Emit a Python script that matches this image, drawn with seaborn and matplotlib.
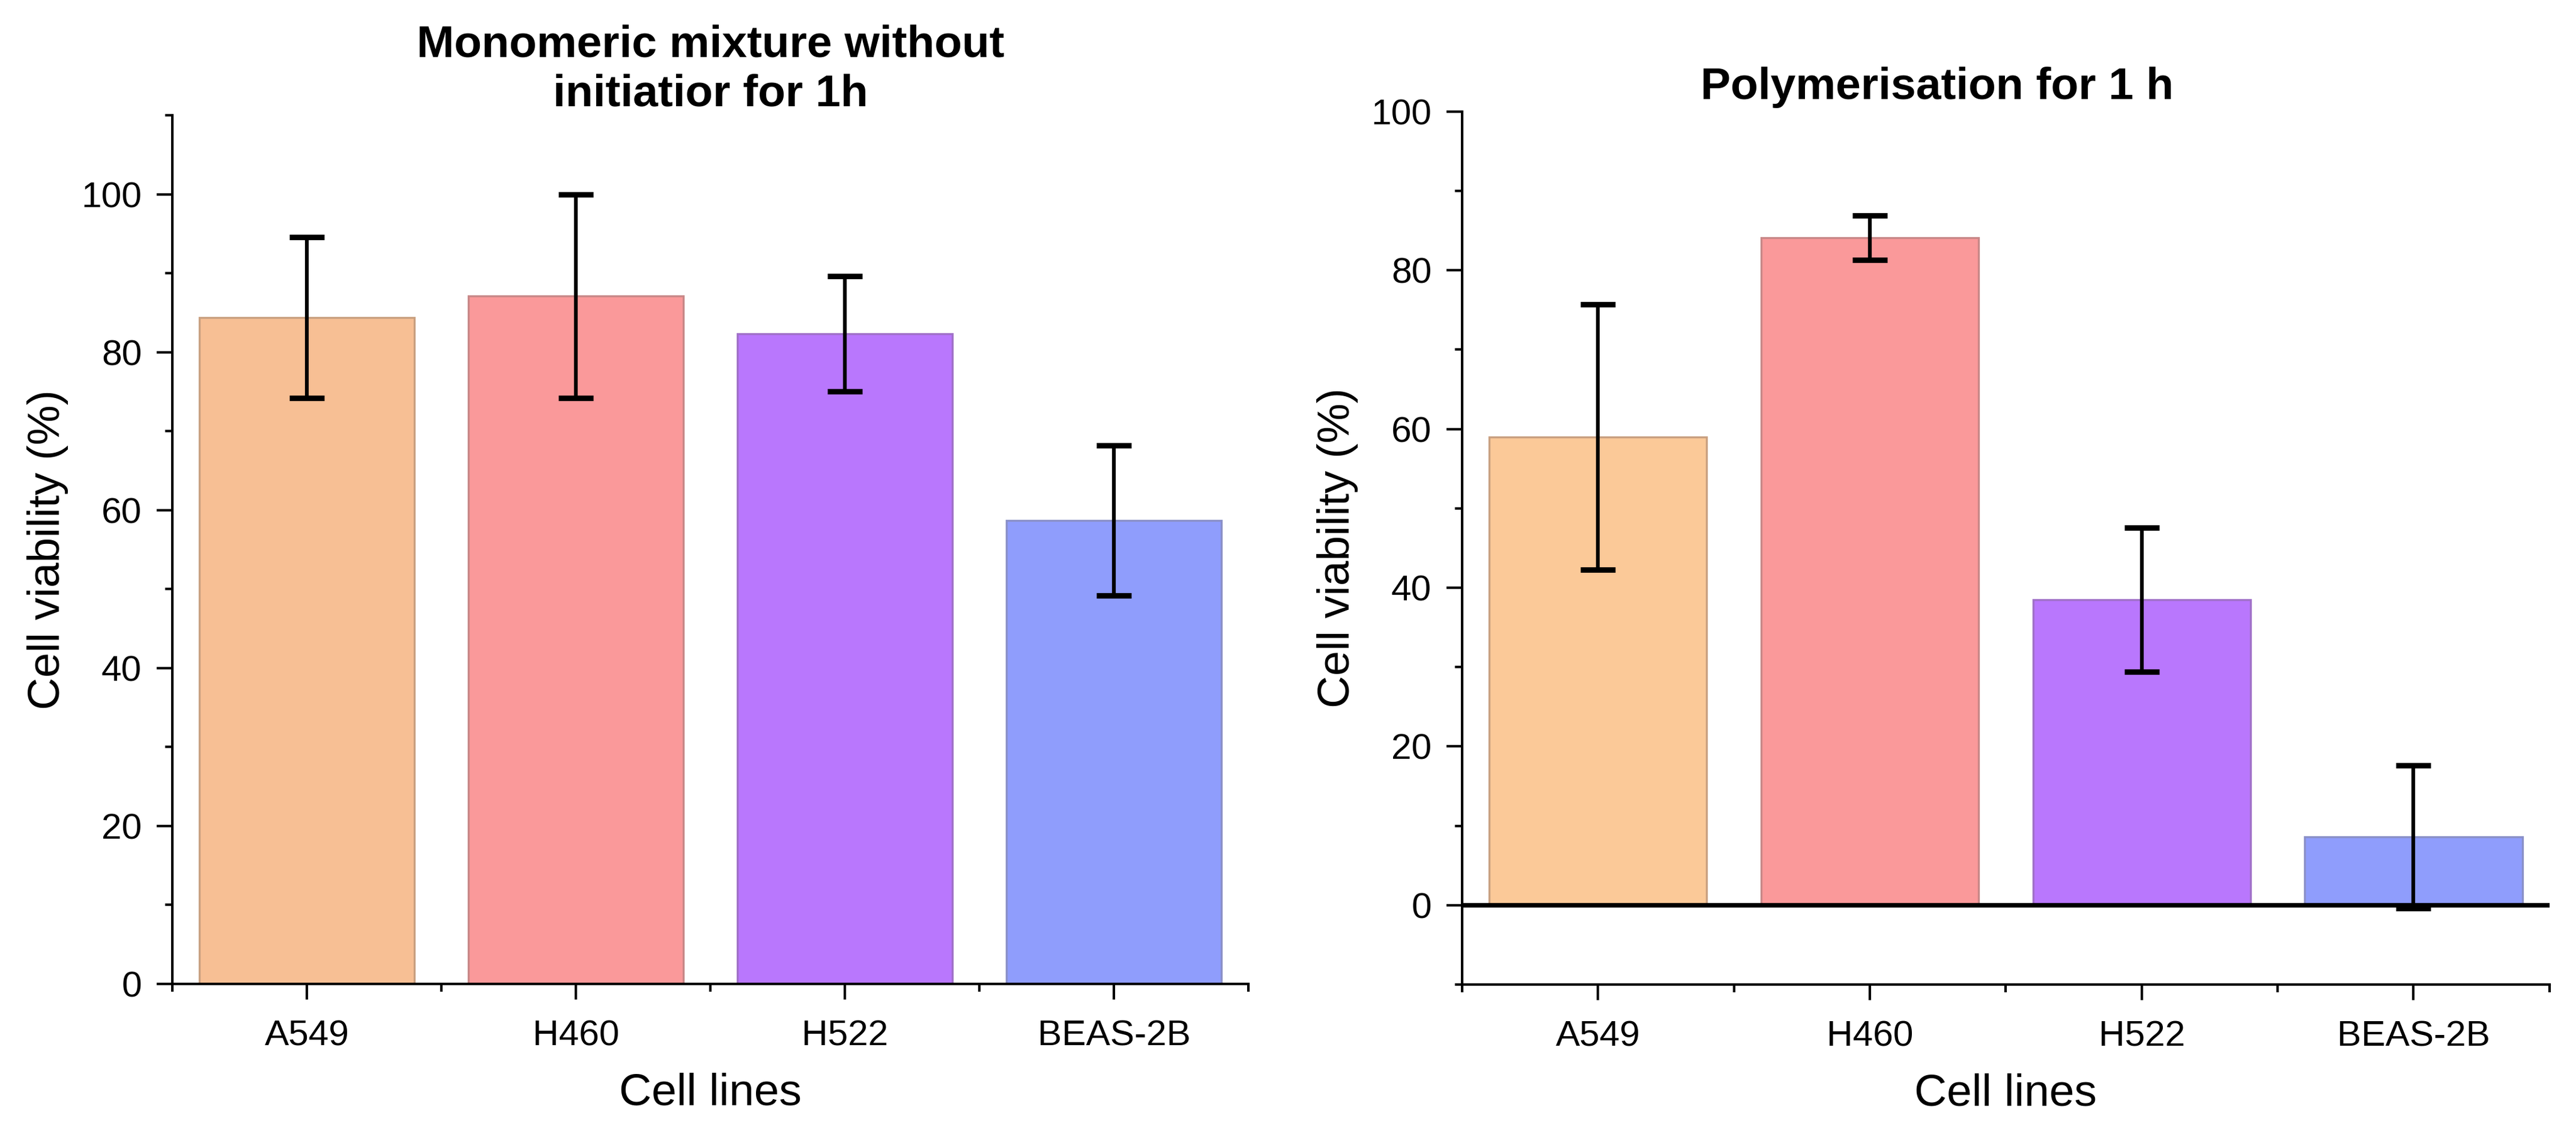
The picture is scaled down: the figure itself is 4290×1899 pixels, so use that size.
import numpy as np
import pandas as pd
import matplotlib
matplotlib.use("Agg")
import matplotlib.pyplot as plt
from matplotlib.ticker import FixedLocator
import seaborn as sns

# ── Data ──────────────────────────────────────────────────────
cells = ["A549", "H460", "H522", "BEAS-2B"]
mono_mean = [84.4, 87.1, 82.3, 58.7]
mono_sd = [10.2, 12.9, 7.3, 9.5]
poly_mean = [59.0, 84.1, 38.5, 8.6]
poly_sd = [16.7, 2.8, 9.1, 9.0]

mono_colors = ["#F7BF94", "#FA999A", "#B977FD", "#8F9DFC"]
poly_colors = ["#FBC998", "#FA999A", "#B977FD", "#8F9DFC"]
edge_colors = ["#C9A080", "#C88888", "#A070C8", "#8A90C8"]

# ── Style ─────────────────────────────────────────────────────
sns.set_style("ticks")
plt.rcParams["font.family"] = ["Liberation Sans", "DejaVu Sans"]
plt.rcParams["text.color"] = "black"
plt.rcParams["axes.labelcolor"] = "black"
plt.rcParams["axes.linewidth"] = 1.0
plt.rcParams["xtick.major.size"] = 6.2
plt.rcParams["ytick.major.size"] = 6.2
plt.rcParams["xtick.minor.size"] = 3.0
plt.rcParams["ytick.minor.size"] = 3.0
plt.rcParams["xtick.major.width"] = 1.0
plt.rcParams["ytick.major.width"] = 1.0
plt.rcParams["xtick.minor.width"] = 1.0
plt.rcParams["ytick.minor.width"] = 1.0
plt.rcParams["xtick.color"] = "black"
plt.rcParams["ytick.color"] = "black"
plt.rcParams["xtick.labelcolor"] = "black"
plt.rcParams["ytick.labelcolor"] = "black"
plt.rcParams["axes.edgecolor"] = "black"

fig = plt.figure(figsize=(14.3, 6.33), dpi=300)
ax1 = fig.add_axes([0.0669, 0.1369, 0.4177, 0.7620])
ax2 = fig.add_axes([0.5676, 0.1364, 0.4221, 0.7657])


def draw_panel(ax, means, sds, colors):
    df = pd.DataFrame({"cell": cells, "viability": means})
    sns.barplot(data=df, x="cell", y="viability", hue="cell", palette=colors,
                order=cells, hue_order=cells, width=0.8, errorbar=None,
                legend=False, saturation=1, ax=ax)
    for patch, ec in zip(ax.patches, edge_colors):
        patch.set_edgecolor(ec)
        patch.set_linewidth(0.8)
    ax.errorbar(np.arange(len(cells)), means, yerr=sds, fmt="none",
                ecolor="black", elinewidth=1.5, capsize=7, capthick=2.2,
                zorder=5)
    ax.set_xlim(-0.5, len(cells) - 0.5)
    ax.xaxis.set_minor_locator(FixedLocator(np.arange(-0.5, len(cells), 1.0)))
    ax.set_xlabel("Cell lines", fontsize=18, labelpad=8)
    ax.set_ylabel("Cell viability (%)", fontsize=18, labelpad=5)
    ax.tick_params(axis="both", which="major", labelsize=14.5, pad=6)
    ax.tick_params(axis="x", which="major", pad=8)
    sns.despine(ax=ax)


# ── Left: monomeric mixture ───────────────────────────────────
draw_panel(ax1, mono_mean, mono_sd, mono_colors)
ax1.set_ylim(0, 110)
ax1.yaxis.set_major_locator(FixedLocator([0, 20, 40, 60, 80, 100]))
ax1.yaxis.set_minor_locator(FixedLocator([10, 30, 50, 70, 90, 110]))
ax1.set_title("Monomeric mixture without\ninitiatior for 1h", fontsize=18,
              fontweight="bold", pad=-6, linespacing=1.25)

# ── Right: polymerisation ─────────────────────────────────────
draw_panel(ax2, poly_mean, poly_sd, poly_colors)
ax2.set_ylim(-10, 100)
ax2.yaxis.set_major_locator(FixedLocator([0, 20, 40, 60, 80, 100]))
ax2.yaxis.set_minor_locator(FixedLocator([-10, 10, 30, 50, 70, 90]))
ax2.axhline(0, color="black", lw=1.8, zorder=4)
ax2.set_title("Polymerisation for 1 h", fontsize=18, fontweight="bold",
              pad=5, x=0.437)

plt.savefig("out.png", dpi=300)
